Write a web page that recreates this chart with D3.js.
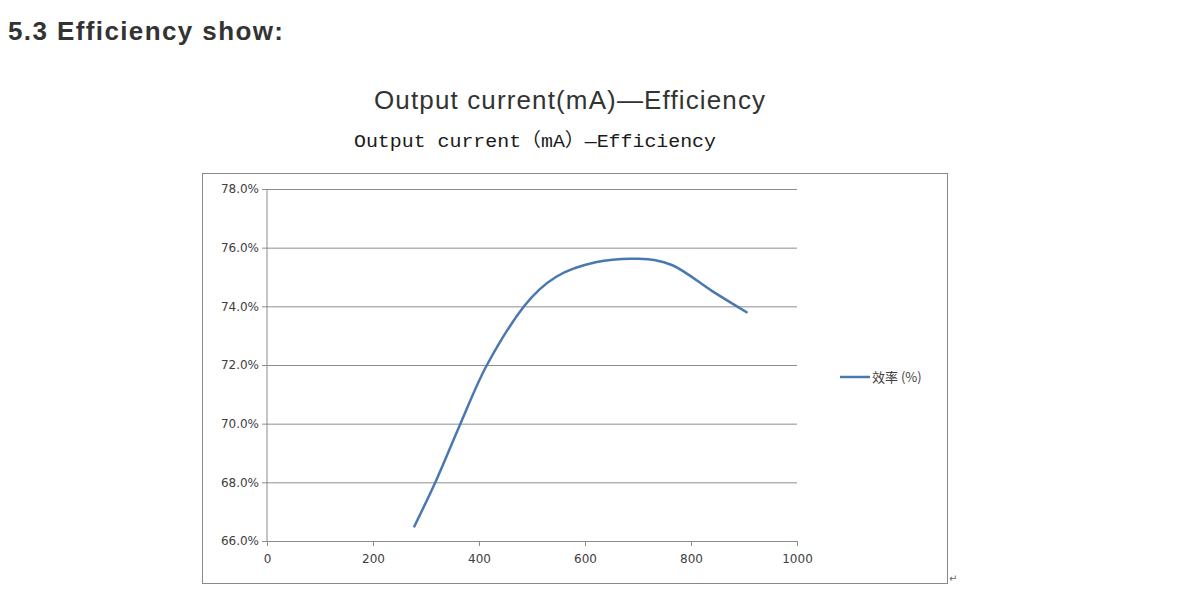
<!DOCTYPE html>
<html>
<head>
<meta charset="utf-8">
<script src="https://cdn.jsdelivr.net/npm/d3@7/dist/d3.min.js"></script>
<style>
  body { margin: 0; background: #fff; }
  svg { display: block; }
</style>
</head>
<body>
<svg id="chart" width="1187" height="602"></svg>
<script>
// 数据：输出电流 (mA) 与效率 (%)
const current = [278, 320, 365, 415, 485, 545, 620, 700, 765, 840, 905];
const efficiency = [66.5, 68.1, 70.0, 72.0, 74.0, 75.0, 75.5, 75.62, 75.4, 74.52, 73.8];
const xTicks = [0, 200, 400, 600, 800, 1000];
const yTicks = [66, 68, 70, 72, 74, 76, 78];
const seriesName = '效率 (%)';

const svg = d3.select('#chart');
const margin = { top: 189, bottom: 61, left: 267, right: 390 };  // 绘图区
const W = 1187, H = 602;
const lineColor = '#4a78b0';
const gridColor = '#8c8c8c';
const labelColor = '#404040';

const x = d3.scaleLinear([0, 1000], [margin.left, W - margin.right]);
const y = d3.scaleLinear([66, 78], [H - margin.bottom, margin.top]);

// 页面标题
svg.append('text')
  .attr('x', 8).attr('y', 40)
  .attr('font-family', 'Liberation Sans, Arial, sans-serif')
  .attr('font-size', 26).attr('font-weight', 700)
  .attr('fill', '#333')
  .attr('textLength', 275)
  .attr('lengthAdjust', 'spacing')
  .text('5.3 Efficiency show:');

svg.append('text')
  .attr('x', 374).attr('y', 109)
  .attr('font-family', 'Liberation Sans, Arial, sans-serif')
  .attr('font-size', 26)
  .attr('fill', '#333')
  .attr('textLength', 391)
  .attr('lengthAdjust', 'spacing')
  .text('Output current(mA)—Efficiency');

// 图表外框
svg.append('rect')
  .attr('x', 202.5).attr('y', 173.5)
  .attr('width', 745).attr('height', 410)
  .attr('fill', 'none')
  .attr('stroke', '#8a8a8a')
  .attr('stroke-width', 1);

svg.append('text')
  .attr('x', 354).attr('y', 147)
  .attr('font-family', 'Liberation Mono, Noto Sans CJK SC, monospace')
  .attr('font-size', 19)
  .attr('fill', '#1a1a1a')
  .attr('textLength', 362)
  .attr('lengthAdjust', 'spacingAndGlyphs')
  .text('Output current（mA）—Efficiency');

// 坐标轴
const axisGroup = svg.append('g').attr('class', 'axis-group');

const yAxis = d3.axisLeft(y)
  .tickValues(yTicks)
  .tickSize(5)
  .tickFormat(d => d.toFixed(1) + '%');
axisGroup.append('g')
  .attr('transform', `translate(${margin.left},0)`)
  .call(yAxis)
  .call(g => g.selectAll('.tick line').clone()
    .attr('x1', 0)
    .attr('x2', W - margin.left - margin.right))
  .call(g => g.selectAll('line, path').attr('stroke', gridColor))
  .call(g => g.select('.domain').attr('d', `M0,${y(66)}V${y(78)}`));

const xAxis = d3.axisBottom(x)
  .tickValues(xTicks)
  .tickSize(5)
  .tickSizeOuter(0)
  .tickFormat(d3.format('d'));
axisGroup.append('g')
  .attr('transform', `translate(0,${y(66)})`)
  .call(xAxis)
  .call(g => g.selectAll('line, path').attr('stroke', gridColor))
  .call(g => g.selectAll('.tick text').attr('dy', '1.2em'));

axisGroup.selectAll('text')
  .attr('font-family', 'DejaVu Sans, Verdana, sans-serif')
  .attr('font-size', 12)
  .attr('fill', labelColor);

// 曲线
const line = d3.line()
  .curve(d3.curveCardinal.tension(0))
  .x(d => x(d.x))
  .y(d => y(d.y));
const lineData = current.map((d, i) => ({ x: d, y: efficiency[i] }));
svg.append('path')
  .attr('d', line(lineData))
  .attr('fill', 'none')
  .attr('stroke', lineColor)
  .attr('stroke-width', 2.5)
  .attr('stroke-linecap', 'round');

// 图例
const legend = svg.append('g').attr('transform', 'translate(840,377)');
legend.append('line')
  .attr('x1', 0).attr('x2', 30)
  .attr('stroke', lineColor)
  .attr('stroke-width', 2.5);
legend.append('text')
  .attr('x', 32).attr('y', 5)
  .attr('font-family', 'Noto Sans CJK SC, sans-serif')
  .attr('font-size', 13)
  .attr('fill', labelColor)
  .text(seriesName);

// 回车符
svg.append('text')
  .attr('x', 949).attr('y', 582)
  .attr('font-family', 'DejaVu Sans, sans-serif')
  .attr('font-size', 10)
  .attr('fill', '#666')
  .text('↵');
</script>
</body>
</html>
